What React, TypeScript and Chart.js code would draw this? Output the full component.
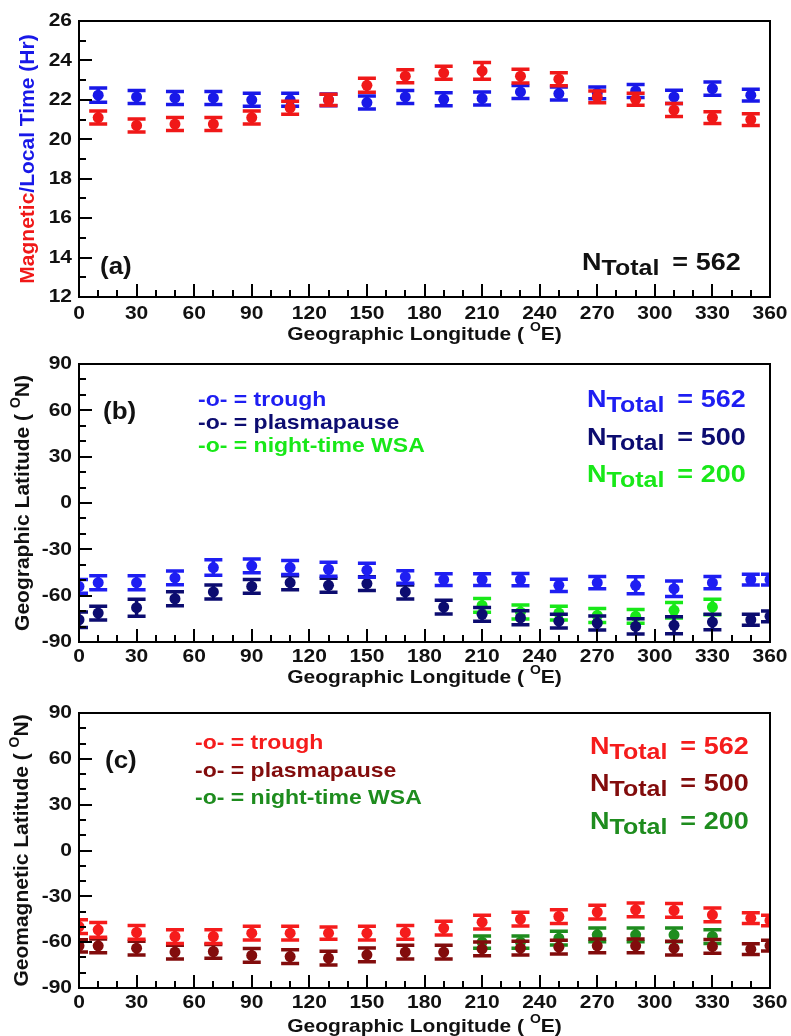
import React, { useEffect, useRef } from "react";
import { Chart, registerables } from "chart.js";
Chart.register(...registerables);

const FONT = "'Liberation Sans', Arial, Helvetica, sans-serif";
const SY = 0.9;

// ---------- Panel (a) data ----------
const lonA = [10, 30, 50, 70, 90, 110, 130, 150, 170, 190, 210, 230, 250, 270, 290, 310, 330, 350];
const magneticTime = [21.1, 20.7, 20.77, 20.77, 21.1, 21.6, 22.0, 22.74, 23.2, 23.37, 23.47, 23.2, 23.05, 22.15, 22.03, 21.48, 21.1, 21.0];
const magneticTimeErr = [0.33, 0.33, 0.33, 0.33, 0.33, 0.33, 0.28, 0.35, 0.33, 0.33, 0.42, 0.35, 0.33, 0.3, 0.3, 0.33, 0.3, 0.3];
const localTime = [22.24, 22.15, 22.1, 22.1, 22.0, 22.0, 22.0, 21.86, 22.15, 22.03, 22.07, 22.4, 22.32, 22.35, 22.45, 22.15, 22.57, 22.24];
const localTimeErr = [0.36, 0.33, 0.33, 0.33, 0.33, 0.33, 0.3, 0.33, 0.33, 0.33, 0.33, 0.33, 0.33, 0.3, 0.33, 0.34, 0.33, 0.3];

// ---------- Panels (b), (c) longitudes ----------
const lonFull = [0, 10, 30, 50, 70, 90, 110, 130, 150, 170, 190, 210, 230, 250, 270, 290, 310, 330, 350, 360];
const lonWSA = [210, 230, 250, 270, 290, 310, 330];

// ---------- Panel (b) geographic latitude ----------
const troughGeo = [-54, -51.6, -51.6, -48.5, -41.8, -40.7, -41.8, -42.9, -43.5, -47.9, -49.6, -49.6, -49.6, -53.3, -51.6, -53.3, -55.5, -51.6, -49.6, -49.6];
const troughGeoErr = [4.5, 4.5, 4.5, 4.5, 5, 4.5, 4.5, 4.5, 4.5, 4, 3.8, 3.8, 4, 4, 4, 5.5, 5, 4, 3.5, 3.5];
const plasmaGeo = [-75.6, -71.3, -67.8, -62, -57.6, -54, -51.6, -53.3, -52.2, -57.6, -67.4, -72.1, -74.3, -76.5, -77.7, -79.9, -79.2, -77.1, -75.6, -73.4];
const plasmaGeoErr = [5, 4.5, 5.5, 4.5, 4.5, 4.5, 4.5, 4.5, 4.5, 4.5, 4.5, 4.5, 4.5, 4.5, 4.5, 5, 5.5, 5, 3.5, 3.5];
const wsaGeo = [-66.3, -70.6, -71.3, -72.8, -73.4, -69.5, -67.4];
const wsaGeoErr = [4.5, 4.5, 4.5, 4.5, 4.5, 5, 5];

// ---------- Panel (c) geomagnetic latitude ----------
const troughMag = [-49.8, -51.9, -53.6, -56.3, -56.3, -54.1, -54.1, -54.1, -54.1, -53.6, -50.8, -46.9, -44.9, -43.2, -40.3, -38.8, -39.2, -42.1, -44.3, -45.8];
const troughMagErr = [4.5, 4.8, 4.5, 4.5, 4.5, 4.5, 4.5, 4, 4.5, 4.5, 4.5, 4.5, 4.5, 4.5, 4.5, 4.5, 4.5, 4.5, 3.5, 3.5];
const plasmaMag = [-62.4, -62.4, -63.9, -66.5, -66.1, -68.7, -69.4, -70.4, -68.3, -66.5, -66.5, -64.4, -63.9, -63.3, -62.4, -62.4, -63.9, -62.8, -64.6, -62.2];
const plasmaMagErr = [4, 4.5, 4.5, 4.5, 4.5, 4.5, 4.5, 4.5, 4.5, 4.5, 4.5, 4.5, 4.5, 4.5, 4.5, 4.5, 4.5, 4.5, 3.5, 3.5];
const wsaMag = [-60, -60, -57.4, -55.2, -55.2, -55.2, -56.3];
const wsaMagErr = [4, 4, 4.5, 4.5, 4.5, 4.5, 4.5];

const legendNames = ["trough", "plasmapause", "night-time WSA"];
const nTotals = [562, 500, 200];

type Seg = { t: string; size: number; color: string; dy?: number; dx?: number };

function drawRich(ctx: CanvasRenderingContext2D, segs: Seg[], x: number, y: number, align: "left" | "center" | "right", sy = SY) {
  ctx.save();
  ctx.textBaseline = "middle";
  ctx.textAlign = "left";
  const widths = segs.map((s) => {
    ctx.font = `bold ${s.size}px ${FONT}`;
    return ctx.measureText(s.t).width + (s.dx || 0);
  });
  const total = widths.reduce((a, b) => a + b, 0);
  let cx = align === "left" ? x : align === "center" ? x - total / 2 : x - total;
  ctx.translate(0, y);
  ctx.scale(1, sy);
  segs.forEach((s, i) => {
    ctx.font = `bold ${s.size}px ${FONT}`;
    ctx.fillStyle = s.color;
    ctx.fillText(s.t, cx + (s.dx || 0), (s.dy || 0) / sy);
    cx += widths[i];
  });
  ctx.restore();
}

interface Series { data: number[]; lon: number[]; err: number[]; color: string }
interface PanelCfg {
  top: number; height: number; padTop: number;
  yMin: number; yMax: number; yStep: number; yMinor: number;
  series: Series[];
  yTitle: Seg[]; yTitleX: number;
  label: string; labelX: number; labelY: number;
  legend?: { x: number; ys: number[]; colors: string[] };
  ntotal: { x: number; ys: number[]; colors: string[] };
  tickDy: number; titleDy: number;
}

const BLACK = "#111";
const RED_A = "#f01818";
const BLUE_A = "#1818e8";

const sup = (t: string, c: string): Seg => ({ t, size: 14, color: c, dy: -7 });

const panels: PanelCfg[] = [
  {
    top: 0, height: 345, padTop: 21, yMin: 12, yMax: 26, yStep: 2, yMinor: 1,
    series: [
      { data: magneticTime, lon: lonA, err: magneticTimeErr, color: RED_A },
      { data: localTime, lon: lonA, err: localTimeErr, color: BLUE_A },
    ],
    yTitle: [
      { t: "Magnetic", size: 21, color: RED_A },
      { t: "/Local Time (Hr)", size: 21, color: BLUE_A },
    ],
    yTitleX: 28,
    label: "(a)", labelX: 100, labelY: 268,
    ntotal: { x: 582, ys: [263], colors: [BLACK] },
    tickDy: 17, titleDy: 38,
  },
  {
    top: 345, height: 345, padTop: 19, yMin: -90, yMax: 90, yStep: 30, yMinor: 10,
    series: [
      { data: troughGeo, lon: lonFull, err: troughGeoErr, color: "#1e1ef2" },
      { data: plasmaGeo, lon: lonFull, err: plasmaGeoErr, color: "#0c0c70" },
      { data: wsaGeo, lon: lonWSA, err: wsaGeoErr, color: "#18e818" },
    ],
    yTitle: [
      { t: "Geographic Latitude ( ", size: 21, color: BLACK },
      sup("O", BLACK),
      { t: "N)", size: 21, color: BLACK },
    ],
    yTitleX: 23,
    label: "(b)", labelX: 103, labelY: 413,
    legend: { x: 198, ys: [400, 423, 446], colors: ["#1e1ef2", "#0c0c70", "#18e818"] },
    ntotal: { x: 587, ys: [400, 438, 475], colors: ["#1e1ef2", "#0c0c70", "#18e818"] },
    tickDy: 15, titleDy: 36,
  },
  {
    top: 690, height: 346, padTop: 23, yMin: -90, yMax: 90, yStep: 30, yMinor: 10,
    series: [
      { data: troughMag, lon: lonFull, err: troughMagErr, color: "#f51c1c" },
      { data: plasmaMag, lon: lonFull, err: plasmaMagErr, color: "#820c0c" },
      { data: wsaMag, lon: lonWSA, err: wsaMagErr, color: "#1e8c1e" },
    ],
    yTitle: [
      { t: "Geomagnetic Latitude ( ", size: 21, color: BLACK },
      sup("O", BLACK),
      { t: "N)", size: 21, color: BLACK },
    ],
    yTitleX: 22,
    label: "(c)", labelX: 105, labelY: 762,
    legend: { x: 195, ys: [743, 771, 798], colors: ["#f51c1c", "#820c0c", "#1e8c1e"] },
    ntotal: { x: 590, ys: [747, 784, 822], colors: ["#f51c1c", "#820c0c", "#1e8c1e"] },
    tickDy: 15, titleDy: 39,
  },
];

function makeDeco(cfg: PanelCfg) {
  return {
    id: "deco",
    beforeDatasetDraw(chart: any, args: any) {
      const ds = chart.data.datasets[args.index];
      const errs: number[] = ds.errors || [];
      const xs = chart.scales.x, ys = chart.scales.y, a = chart.chartArea;
      const ctx: CanvasRenderingContext2D = chart.ctx;
      ctx.save();
      ctx.beginPath();
      ctx.rect(a.left, a.top, a.right - a.left, a.bottom - a.top);
      ctx.clip();
      ctx.strokeStyle = ds.backgroundColor;
      ctx.lineWidth = 3.5;
      ds.data.forEach((p: any, i: number) => {
        const e = errs[i] || 0;
        const px = xs.getPixelForValue(p.x);
        const y1 = ys.getPixelForValue(p.y + e);
        const y2 = ys.getPixelForValue(p.y - e);
        ctx.beginPath();
        ctx.moveTo(px, y1); ctx.lineTo(px, y2);
        ctx.moveTo(px - 9, y1); ctx.lineTo(px + 9, y1);
        ctx.moveTo(px - 9, y2); ctx.lineTo(px + 9, y2);
        ctx.stroke();
      });
      ctx.restore();
    },
    afterDraw(chart: any) {
      const ctx: CanvasRenderingContext2D = chart.ctx;
      const a = chart.chartArea;
      const xs = chart.scales.x, ys = chart.scales.y;
      const off = cfg.top;
      ctx.save();
      ctx.strokeStyle = "#000";
      ctx.lineWidth = 2;
      ctx.strokeRect(a.left, a.top, a.right - a.left, a.bottom - a.top);
      // x ticks (inward)
      ctx.beginPath();
      for (let v = 0; v <= 360; v += 10) {
        const px = Math.round(xs.getPixelForValue(v));
        const len = v % 30 === 0 ? 13 : 7;
        ctx.moveTo(px, a.bottom); ctx.lineTo(px, a.bottom - len);
      }
      for (let v = cfg.yMin; v <= cfg.yMax + 1e-9; v += cfg.yMinor) {
        const py = Math.round(ys.getPixelForValue(v));
        const major = Math.abs(((v - cfg.yMin) / cfg.yStep) - Math.round((v - cfg.yMin) / cfg.yStep)) < 1e-6;
        const len = major ? 13 : 7;
        ctx.moveTo(a.left, py); ctx.lineTo(a.left + len, py);
      }
      ctx.stroke();
      ctx.restore();

      // tick labels from scales
      xs.ticks.forEach((t: any) => {
        drawRich(ctx, [{ t: String(t.value), size: 21, color: BLACK }], xs.getPixelForValue(t.value), a.bottom + cfg.tickDy, "center");
      });
      ys.ticks.forEach((t: any) => {
        drawRich(ctx, [{ t: String(t.value), size: 21, color: BLACK }], a.left - 7, ys.getPixelForValue(t.value), "right");
      });
      // x title
      drawRich(ctx, [
        { t: "Geographic Longitude ( ", size: 21, color: BLACK },
        sup("O", BLACK),
        { t: "E)", size: 21, color: BLACK },
      ], (a.left + a.right) / 2, a.bottom + cfg.titleDy, "center");
      // y title (rotated)
      ctx.save();
      ctx.translate(cfg.yTitleX, (a.top + a.bottom) / 2);
      ctx.rotate(-Math.PI / 2);
      drawRich(ctx, cfg.yTitle, 0, 0, "center", 1);
      ctx.restore();
      // panel label
      drawRich(ctx, [{ t: cfg.label, size: 26, color: BLACK }], cfg.labelX, cfg.labelY - off, "left");
      // legend
      if (cfg.legend) {
        cfg.legend.ys.forEach((y, i) => {
          drawRich(ctx, [{ t: "-o- = " + legendNames[i], size: 23, color: cfg.legend!.colors[i] }], cfg.legend!.x, y - off, "left");
        });
      }
      // N totals
      cfg.ntotal.ys.forEach((y, i) => {
        const c = cfg.ntotal.colors[i];
        drawRich(ctx, [
          { t: "N", size: 27, color: c },
          { t: "Total", size: 25, color: c, dy: 6 },
          { t: "= " + nTotals[i], size: 27, color: c, dx: 13 },
        ], cfg.ntotal.x, y - off, "left");
      });
    },
  };
}

function Panel({ cfg }: { cfg: PanelCfg }) {
  const ref = useRef<HTMLCanvasElement>(null);
  useEffect(() => {
    if (!ref.current) return;
    const chart = new Chart(ref.current, {
      type: "scatter",
      data: {
        datasets: cfg.series.map((s) => ({
          data: s.lon.map((x, i) => ({ x, y: s.data[i] })),
          errors: s.err,
          backgroundColor: s.color,
          borderColor: s.color,
          pointRadius: 5.5,
          pointBorderWidth: 0,
          showLine: false,
          clip: 0,
        })) as any,
      },
      options: {
        responsive: false,
        animation: false,
        devicePixelRatio: 1,
        layout: { padding: { top: cfg.padTop, right: 21, bottom: 0, left: 0 } },
        plugins: { legend: { display: false }, tooltip: { enabled: false } },
        events: [],
        scales: {
          x: {
            type: "linear", min: 0, max: 360,
            ticks: { stepSize: 30, display: false },
            grid: { display: false, drawTicks: false },
            border: { display: false },
            afterFit: (s: any) => { s.height = 48; },
          },
          y: {
            type: "linear", min: cfg.yMin, max: cfg.yMax,
            ticks: { stepSize: cfg.yStep, display: false },
            grid: { display: false, drawTicks: false },
            border: { display: false },
            afterFit: (s: any) => { s.width = 79; },
          },
        },
      } as any,
      plugins: [makeDeco(cfg)],
    });
    return () => chart.destroy();
  }, [cfg]);
  return (
    <canvas
      ref={ref}
      width={791}
      height={cfg.height}
      style={{ position: "absolute", left: 0, top: cfg.top, width: 791, height: cfg.height }}
    />
  );
}

export default function App() {
  return (
    <div style={{ position: "absolute", left: 0, top: 0, width: 791, height: 1036, background: "#fff" }}>
      {panels.map((p, i) => (
        <Panel key={i} cfg={p} />
      ))}
    </div>
  );
}
